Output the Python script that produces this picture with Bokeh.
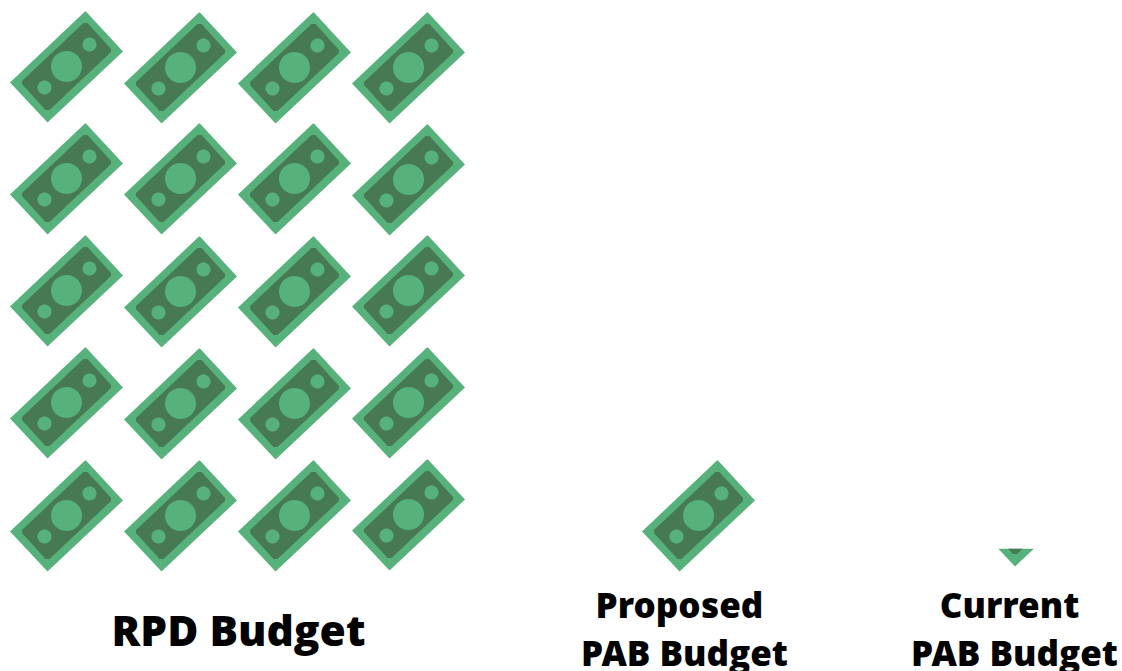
import math
from bokeh.plotting import figure
from bokeh.models import Range1d
from bokeh.core.properties import value
from bokeh.embed import file_html
from bokeh.resources import INLINE

# Budgets, counted in whole bills (each bill is the same sum of money)
budget_names = ["RPD Budget", "Proposed\nPAB Budget", "Current\nPAB Budget"]
budget_bills = [20, 1, 0.16]

LIGHT = "#57B17B"
DARK = "#477A52"
TEXT = "#000000"

W, H = 1122, 671

# Bill outline relative to its centre, in pixels
OUTER = [(19, -55.5), (56.5, -15), (-19, 56), (-56.5, 16)]
INNER = [
    (17, -43.5), (21, -43.5), (44.5, -17.5), (44.5, -14.5),
    (-17, 43.5), (-21, 43.5), (-44.5, 17.5), (-44.5, 14.5),
]
SPOTS = [(0, 0, 15.5), (23, -22, 7), (-22, 21, 7)]

# Slot of every bill in the pictogram
RPD_X = [66, 180, 294, 408]
RPD_Y = [
    [66, 67, 67, 67],
    [178, 178, 178, 179],
    [290, 291, 291, 290],
    [402, 403, 403, 402],
    [515, 515, 515, 514],
]
PROPOSED_SLOT = (698, 515)
CURRENT_SLOT = (1033.5, 510)


def clip_above(poly, limit):
    """Keep the part of a polygon lying below the screen row `limit`."""
    out = []
    for i, (x0, y0) in enumerate(poly):
        x1, y1 = poly[(i + 1) % len(poly)]
        if y0 >= limit:
            out.append((x0, y0))
        if (y0 >= limit) != (y1 >= limit):
            t = (limit - y0) / (y1 - y0)
            out.append((x0 + t * (x1 - x0), limit))
    return out


def disc(cx, cy, r, n=48):
    return [(cx + r * math.cos(2 * math.pi * k / n),
             cy + r * math.sin(2 * math.pi * k / n)) for k in range(n)]


def add_bill(p, cx, cy, share=1.0):
    """Draw one bill; a share below 1 shows only its lower part."""
    height = 111
    limit = cy + 56 - height * share
    parts = [
        ([(cx + x, cy + y) for x, y in OUTER], LIGHT),
        ([(cx + x, cy + y) for x, y in INNER], DARK),
    ] + [(disc(cx + x, cy + y, r), LIGHT) for x, y, r in SPOTS]
    for poly, colour in parts:
        poly = clip_above(poly, limit)
        if poly:
            p.patch([q[0] for q in poly], [q[1] for q in poly],
                    fill_color=colour, line_color=None)


p = figure(width=W, height=H, output_backend="svg", toolbar_location=None,
           x_range=Range1d(0, W), y_range=Range1d(H, 0),
           x_axis_type=None, y_axis_type=None, min_border=0,
           outline_line_color=None, background_fill_color="white",
           border_fill_color="white")
p.grid.visible = False

# RPD pictogram, filled row by row
slots = [(x, y) for row in RPD_Y for x, y in zip(RPD_X, row)]
for (cx, cy) in slots[:budget_bills[0]]:
    add_bill(p, cx, cy)

add_bill(p, *PROPOSED_SLOT, share=budget_bills[1])
add_bill(p, *CURRENT_SLOT, share=budget_bills[2])

# Captions
first, second, third = budget_names
captions = [
    (238, 629, first, 42.5),
    (679, 604, second.split("\n")[0], 35),
    (684, 652, second.split("\n")[1], 35),
    (1009, 604, third.split("\n")[0], 35),
    (1014, 652, third.split("\n")[1], 35),
]
for x, y, label, size in captions:
    p.text([x], [y], text=[label], text_align="center", text_baseline="middle",
           text_font=value("Open Sans ExtraBold"),
           text_font_size=f"{size}px", text_color=TEXT)

open("out.html", "w").write(file_html(p, INLINE))
